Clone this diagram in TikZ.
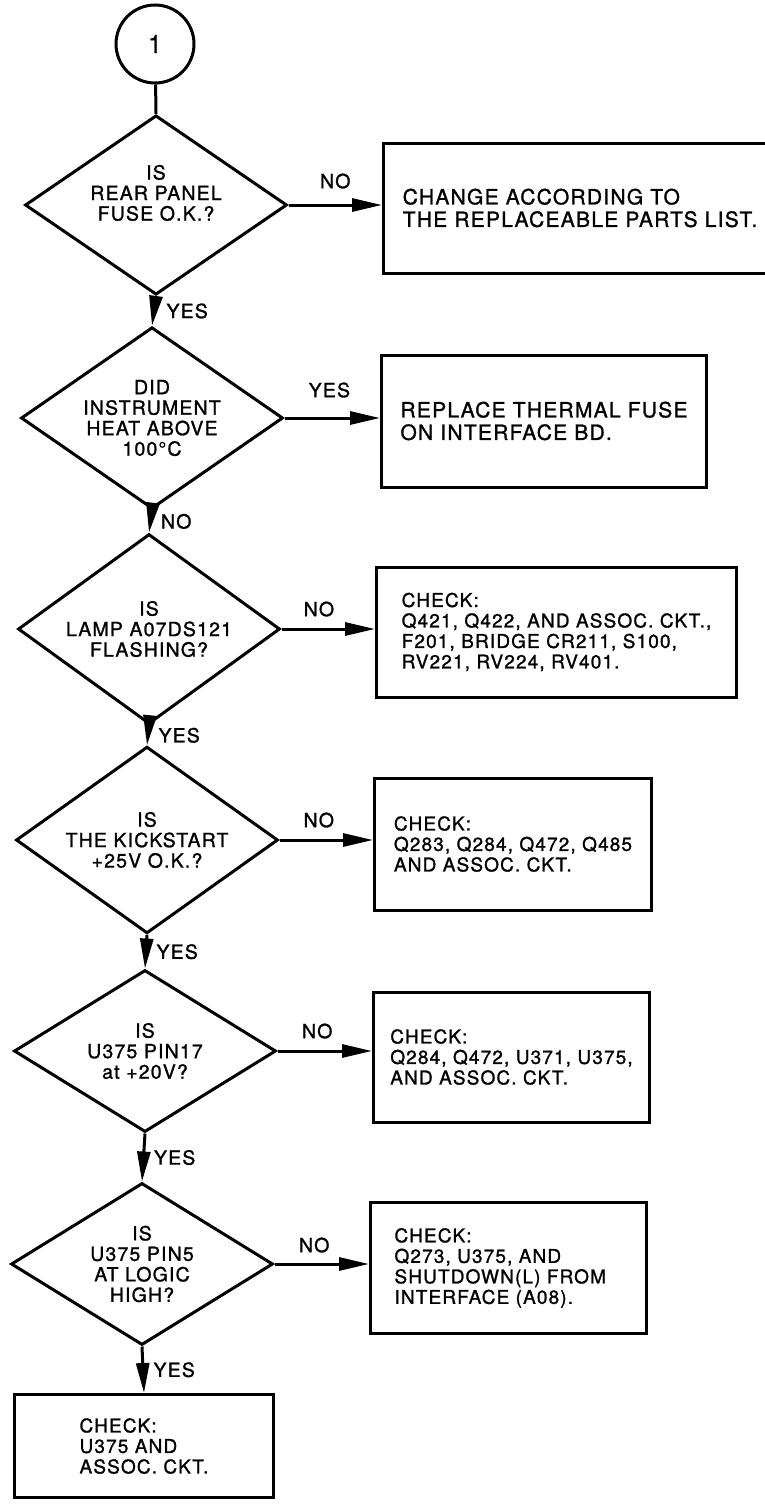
\documentclass[tikz,border=0pt]{standalone}
\usepackage{fontspec}
\setmainfont{TeX Gyre Heros}[LetterSpace=6, FakeBold=1.2]
\usetikzlibrary{arrows.meta, positioning, shapes.geometric}

\newcommand{\askfont}{\fontsize{19.5}{20.5}\selectfont}
\newcommand{\chkfont}{\fontsize{19}{20.5}\selectfont}
\newcommand{\widefont}{\fontsize{21}{22.5}\selectfont}

\begin{document}
\begin{tikzpicture}[
    x=1pt, y=-1pt, line width=3pt,
    ask/.style={draw, diamond, minimum width=262pt, minimum height=162pt, inner sep=-8pt, align=center, font=\askfont},
    chk/.style={draw, rectangle, align=left, font=\chkfont},
    lbl/.style={font=\askfont, inner sep=1pt},
    go/.style={-{Triangle[length=30pt, width=13pt]}}
  ]
    \clip (0,0) rectangle (765,1509);
    \node[draw, circle, minimum size=78pt, font=\fontsize{25}{25}\selectfont] (start) at (155,44) {1};
    % questions
    \node[ask] (q1) at (156,205) {IS\\REAR PANEL\\FUSE O.K.?\\[4pt]};
    \node[ask] (q2) at (152,418) {DID\\INSTRUMENT\\HEAT ABOVE\\100°C};
    \node[ask] (q3) at (149,629) {IS\\LAMP A07DS121\\FLASHING?};
    \node[ask] (q4) at (147,840) {IS\\THE KICKSTART\\+25V O.K.?};
    \node[ask] (q5) at (145,1051) {IS\\U375 PIN17\\at +20V?};
    \node[ask] (q6) at (142,1264) {IS\\U375 PIN5\\AT LOGIC\\HIGH?};
    % actions
    \node[chk, anchor=west, font=\widefont, minimum width=393pt, minimum height=130pt] (b1) at (382,208)
      {CHANGE ACCORDING TO\\THE REPLACEABLE PARTS LIST.};
    \node[chk, anchor=west, font=\widefont, minimum width=325pt, minimum height=132pt] (b2) at (380,421)
      {REPLACE THERMAL FUSE\\ON INTERFACE BD.};
    \node[chk, anchor=west, minimum width=360pt, minimum height=130pt] (b3) at (375,632)
      {CHECK:\\Q421, Q422, AND ASSOC. CKT.,\\F201, BRIDGE CR211, S100,\\RV221, RV224, RV401.};
    \node[chk, anchor=west, minimum width=277pt, minimum height=132pt] (b4) at (373,844)
      {CHECK:\\Q283, Q284, Q472, Q485\\AND ASSOC. CKT.};
    \node[chk, anchor=west, minimum width=276pt, minimum height=130pt] (b5) at (372,1057)
      {CHECK:\\Q284, Q472, U371, U375,\\AND ASSOC. CKT.};
    \node[chk, anchor=west, minimum width=276pt, minimum height=131pt, text width=228pt] (b6) at (369,1268)
      {CHECK:\\Q273, U375, AND\\SHUTDOWN(L) FROM\\INTERFACE (A08).};
    \node[chk, anchor=west, minimum width=259pt, minimum height=103pt] (b7) at (13,1446)
      {CHECK:\\U375 AND\\ASSOC. CKT.};
    % connectors
    \draw (start) -- (q1.north);
    \draw[go] (q1.south) -- (q2.north) node[lbl, midway, right=10pt] {YES};
    \draw[go] (q2.south) -- (q3.north) node[lbl, midway, right=8pt] {NO};
    \draw[go] (q3.south) -- (q4.north) node[lbl, midway, right=8pt] {YES};
    \draw[go] (q4.south) -- (q5.north) node[lbl, midway, right=8pt] {YES};
    \draw[go] (q5.south) -- (q6.north) node[lbl, midway, right=8pt] {YES};
    \draw[go] (q6.south) -- (b7.north) node[lbl, midway, right=8pt] {YES};
    \draw[go] (q1.east) -- (q1.east -| b1.west) node[lbl, pos=0.5, above=14pt] {NO};
    \draw[go] (q2.east) -- (q2.east -| b2.west) node[lbl, pos=0.47, above=18pt] {YES};
    \draw[go] (q3.east) -- (q3.east -| b3.west) node[lbl, pos=0.4, above=10pt] {NO};
    \draw[go] (q4.east) -- (q4.east -| b4.west) node[lbl, pos=0.42, above=10pt] {NO};
    \draw[go] (q5.east) -- (q5.east -| b5.west) node[lbl, pos=0.42, above=10pt] {NO};
    \draw[go] (q6.east) -- (q6.east -| b6.west) node[lbl, pos=0.42, above=9pt] {NO};
\end{tikzpicture}
\end{document}
